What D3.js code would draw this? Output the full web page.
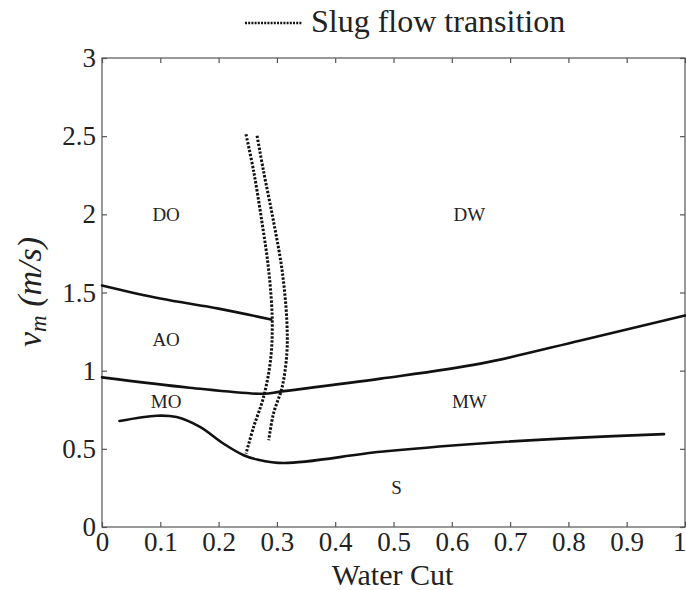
<!DOCTYPE html>
<html>
<head>
<meta charset="utf-8">
<script src="https://cdn.jsdelivr.net/npm/d3@7"></script>
<style>
  html, body { margin: 0; padding: 0; background: #fff; }
  svg { display: block; }
</style>
</head>
<body>
<svg id="chart" width="686" height="590"></svg>
<script>
// ---- data ----
const xTicks = [0, 0.1, 0.2, 0.3, 0.4, 0.5, 0.6, 0.7, 0.8, 0.9, 1];
const xTickLabels = ["0", "0.1", "0.2", "0.3", "0.4", "0.5", "0.6", "0.7", "0.8", "0.9", "1"];
const yTicks = [0, 0.5, 1, 1.5, 2, 2.5, 3];
const yTickLabels = ["0", "0.5", "1", "1.5", "2", "2.5", "3"];

// DO / AO boundary
const boundaryDOAO = [[0, 1.545], [0.1, 1.461], [0.2, 1.397], [0.29, 1.327]];
// AO / MO and DW / MW boundary
const boundaryAOMO = [[0, 0.957], [0.15, 0.891], [0.277, 0.852], [0.306, 0.866],
                      [0.478, 0.949], [0.649, 1.045], [0.821, 1.193], [1.0, 1.353]];
// MO,MW / S boundary
const boundaryS = [[0.030, 0.678], [0.094, 0.712], [0.128, 0.703], [0.168, 0.640],
                   [0.208, 0.534], [0.243, 0.459], [0.266, 0.432], [0.312, 0.409],
                   [0.478, 0.481], [0.649, 0.534], [0.821, 0.572], [0.964, 0.594]];
// slug flow transition (two dotted curves)
const slugLeft = [[0.247, 2.512], [0.260, 2.278], [0.274, 1.959], [0.286, 1.640],
                  [0.292, 1.321], [0.289, 1.065], [0.277, 0.830], [0.260, 0.639], [0.247, 0.469]];
const slugRight = [[0.266, 2.502], [0.277, 2.278], [0.294, 1.959], [0.309, 1.640],
                   [0.317, 1.321], [0.317, 1.108], [0.309, 0.895], [0.294, 0.724], [0.286, 0.555]];

const regionLabels = ["DO", "DW", "AO", "MO", "MW", "S"];
const regionPos = [[0.11, 2.0], [0.63, 2.0], [0.11, 1.2], [0.11, 0.8], [0.63, 0.8], [0.505, 0.25]];

const legendLabel = "Slug flow transition";
const xTitle = "Water Cut";

// ---- drawing ----
const FONT = '"Liberation Serif", "Times New Roman", Times, "DejaVu Serif", serif';
const svg = d3.select("#chart");
const x = d3.scaleLinear().domain([0, 1]).range([102, 685]);
const y = d3.scaleLinear().domain([0, 3]).range([527, 58]);

const axisColor = "#555";

// frame
svg.append("rect")
  .attr("x", x(0)).attr("y", y(3))
  .attr("width", x(1) - x(0)).attr("height", y(0) - y(3))
  .attr("fill", "none").attr("stroke", axisColor).attr("stroke-width", 1.2);

function styleAxis(g) {
  g.attr("font-family", FONT);
  g.select(".domain").remove();
  g.selectAll(".tick line").attr("stroke", axisColor).attr("stroke-width", 1.2);
  g.selectAll(".tick text")
    .attr("fill", "#222")
    .attr("font-family", FONT)
    .attr("font-size", 27);
}

const fmtX = (d, i) => xTickLabels[i];
const fmtY = (d, i) => yTickLabels[i];

const gx = svg.append("g").attr("transform", `translate(0,${y(0)})`)
  .call(d3.axisBottom(x).tickValues(xTicks).tickFormat(fmtX).tickSizeInner(-5).tickSizeOuter(0).tickPadding(5))
  .call(styleAxis);
// keep the last label ("1") inside the picture, as in the reference where it sits at the edge
gx.selectAll(".tick text").filter((d, i) => i === xTicks.length - 1)
  .attr("text-anchor", "end").attr("x", 1);

svg.append("g").attr("transform", `translate(0,${y(3)})`)
  .call(d3.axisTop(x).tickValues(xTicks).tickFormat("").tickSizeInner(-5).tickSizeOuter(0))
  .call(styleAxis);
svg.append("g").attr("transform", `translate(${x(0)},0)`)
  .call(d3.axisLeft(y).tickValues(yTicks).tickFormat(fmtY).tickSizeInner(-5).tickSizeOuter(0).tickPadding(6))
  .call(styleAxis);
svg.append("g").attr("transform", `translate(${x(1)},0)`)
  .call(d3.axisRight(y).tickValues(yTicks).tickFormat("").tickSizeInner(-5).tickSizeOuter(0))
  .call(styleAxis);

// boundaries
const curve = d3.line().x(d => x(d[0])).y(d => y(d[1])).curve(d3.curveCatmullRom.alpha(0.5));
[boundaryDOAO, boundaryAOMO, boundaryS].forEach(b => {
  svg.append("path").attr("d", curve(b))
    .attr("fill", "none").attr("stroke", "#111").attr("stroke-width", 2.6)
    .attr("stroke-linecap", "round");
});

[slugLeft, slugRight].forEach(b => {
  svg.append("path").attr("d", curve(b))
    .attr("fill", "none").attr("stroke", "#111").attr("stroke-width", 3)
    .attr("stroke-dasharray", "2.4,1.6");
});

// region labels
svg.selectAll("text.region").data(regionLabels).enter().append("text")
  .attr("class", "region")
  .attr("x", (d, i) => x(regionPos[i][0]))
  .attr("y", (d, i) => y(regionPos[i][1]))
  .attr("text-anchor", "middle").attr("dominant-baseline", "central")
  .attr("font-family", FONT).attr("font-size", 19).attr("fill", "#222")
  .text(d => d);

// x title
svg.append("text").attr("x", (x(0) + x(1)) / 2 - 1).attr("y", 585)
  .attr("text-anchor", "middle")
  .attr("font-family", FONT).attr("font-size", 30).attr("fill", "#222")
  .text(xTitle);

// y title: v_m (m/s)
const yt = svg.append("text")
  .attr("transform", `translate(41,292) rotate(-90)`)
  .attr("text-anchor", "middle")
  .attr("font-family", FONT).attr("font-size", 34).attr("font-style", "italic").attr("fill", "#222");
yt.append("tspan").text("v");
yt.append("tspan").attr("dy", 5).attr("font-size", 23).text("m");
yt.append("tspan").attr("dy", -5).text(" (m/s)");

// legend
svg.append("line").attr("x1", 245).attr("x2", 302).attr("y1", 23).attr("y2", 23)
  .attr("stroke", "#111").attr("stroke-width", 2.6).attr("stroke-dasharray", "2,1.2");
svg.append("text").attr("x", 311).attr("y", 32)
  .attr("font-family", FONT).attr("font-size", 32).attr("fill", "#222")
  .text(legendLabel);
</script>
</body>
</html>
